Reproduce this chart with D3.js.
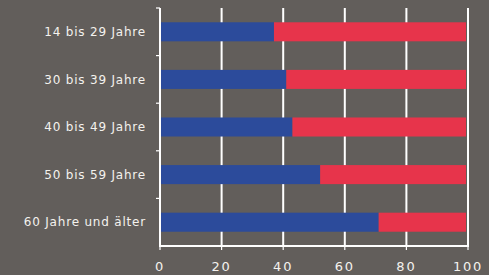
<!DOCTYPE html>
<html>
<head>
<meta charset="utf-8">
<script src="https://cdn.jsdelivr.net/npm/d3@7"></script>
<style>
  body { margin: 0; }
  #chart { position: relative; width: 489px; height: 275px; }
  #chart svg { position: absolute; left: 0; top: 0; display: block; }
  .label { font-family: 'DejaVu Sans', sans-serif; fill: #f4f2ee; }
</style>
</head>
<body>
<div id="chart"></div>
<script>
// age groups and share (%) of the blue part; red is the rest up to 100
const categories = ['14 bis 29 Jahre', '30 bis 39 Jahre', '40 bis 49 Jahre', '50 bis 59 Jahre', '60 Jahre und älter'];
const blueValues = [37, 41, 43, 52, 71];
const redValues = [63, 59, 57, 48, 29];
const xTicks = [0, 20, 40, 60, 80, 100];

const width = 489, height = 275;
const margin = { top: 8, right: 21, bottom: 29, left: 160 };

let innerW = width - margin.left - margin.right;
let innerH = height - margin.top - margin.bottom;

let xScale = d3.scaleLinear().domain([0, 100]).range([margin.left, margin.left + innerW]);
let yScale = d3.scaleBand().domain(categories).range([margin.top, margin.top + innerH]).paddingInner(0.6).paddingOuter(0.3);
let bandScale = d3.scaleBand().domain(categories).range([margin.top, margin.top + innerH]);

// bottom layer: backdrop, gridlines and axis lines
let back = d3.select('#chart').append('svg')
    .attr('width', width)
    .attr('height', height);

back.append('rect').attr('width', width).attr('height', height).attr('fill', '#625e5b');

back.append('g')
    .selectAll('rect')
    .data(xTicks)
    .join('rect')
    .attr('x', d => xScale(d) - 1).attr('width', 2)
    .attr('y', margin.top).attr('height', innerH)
    .attr('fill', 'white');

back.append('rect')
    .attr('x', xScale(0) - 1).attr('width', xScale(100) - xScale(0) + 2)
    .attr('y', margin.top + innerH - 1).attr('height', 2)
    .attr('fill', 'white');

back.append('g')
    .selectAll('rect')
    .data(xTicks)
    .join('rect')
    .attr('x', d => xScale(d) - 0.6).attr('width', 1.2)
    .attr('y', margin.top + innerH).attr('height', 4)
    .attr('fill', 'white');

back.append('g')
    .selectAll('rect')
    .data(categories)
    .join('rect')
    .attr('x', xScale(0) - 4).attr('width', 4)
    .attr('y', d => bandScale(d) - 0.6).attr('height', 1.2)
    .attr('fill', 'white');

// top layer: bars and text
let front = d3.select('#chart').append('svg')
    .attr('width', width)
    .attr('height', height);

let rows = categories.map((c, i) => ({ cat: c, blue: blueValues[i], red: redValues[i] }));

front.append('g')
    .selectAll('rect')
    .data(rows)
    .join('rect')
    .attr('x', xScale(0) + 1)
    .attr('y', d => yScale(d.cat))
    .attr('width', d => xScale(d.blue) - xScale(0) - 1)
    .attr('height', yScale.bandwidth())
    .attr('fill', '#2c4b9b');

front.append('g')
    .selectAll('rect')
    .data(rows)
    .join('rect')
    .attr('x', d => xScale(d.blue))
    .attr('y', d => yScale(d.cat))
    .attr('width', d => xScale(d.blue + d.red) - xScale(d.blue) - 2)
    .attr('height', yScale.bandwidth())
    .attr('fill', '#e7344b');

front.append('g')
    .selectAll('text')
    .data(categories)
    .join('text')
    .attr('class', 'label')
    .attr('x', xScale(0) - 14)
    .attr('y', d => yScale(d) + yScale.bandwidth() / 2)
    .attr('dy', '0.35em')
    .attr('text-anchor', 'end')
    .style('font-size', '12px')
    .style('letter-spacing', '0.8px')
    .text(d => d);

front.append('g')
    .selectAll('text')
    .data(xTicks)
    .join('text')
    .attr('class', 'label')
    .attr('x', d => xScale(d))
    .attr('y', margin.top + innerH + 25)
    .attr('text-anchor', 'middle')
    .style('font-size', '13px')
    .style('letter-spacing', '1.8px')
    .text(d => d);
</script>
</body>
</html>
